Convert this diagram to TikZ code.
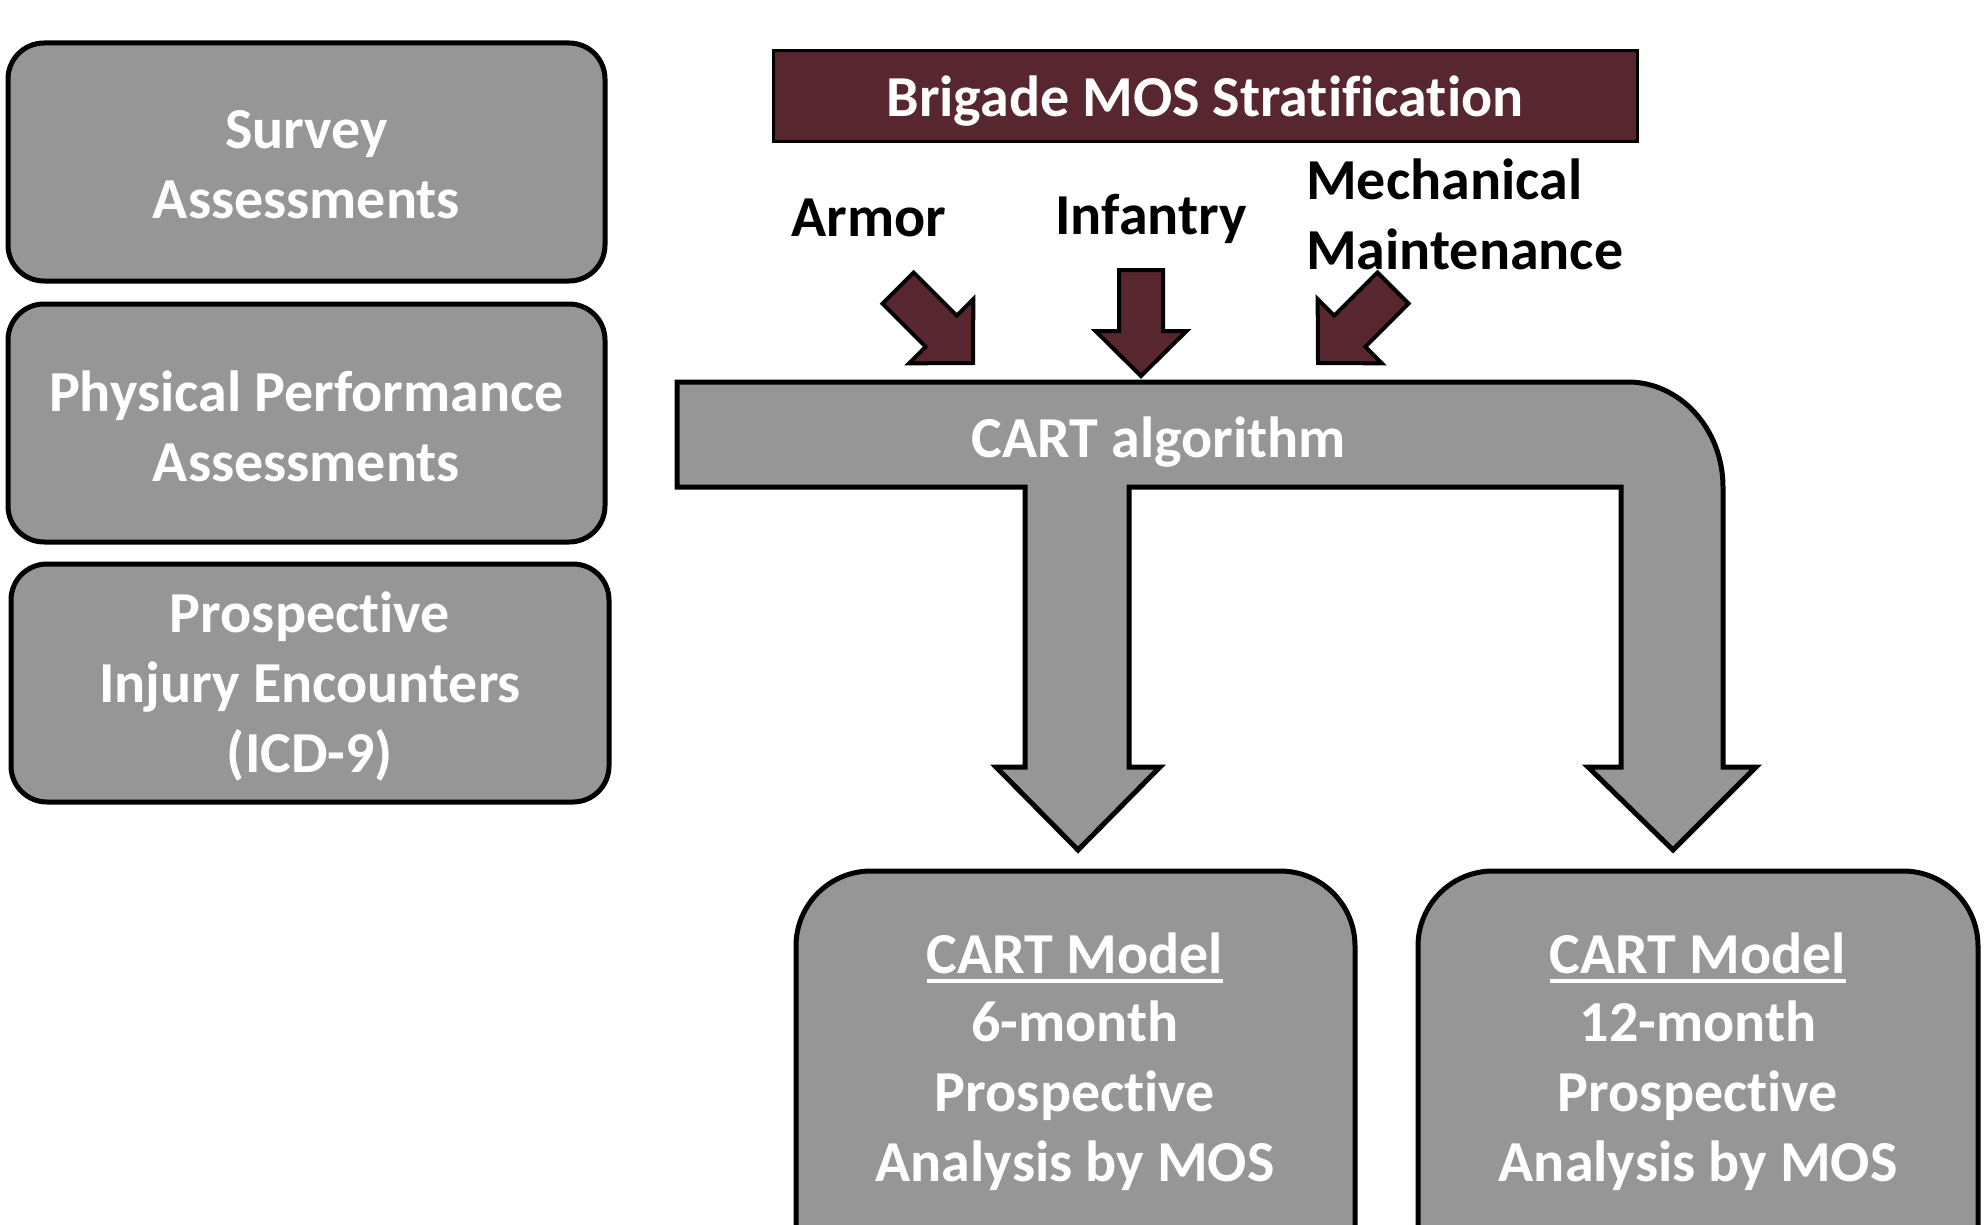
\documentclass[tikz,border=0pt]{standalone}
\usepackage{fontspec}
\setmainfont{Carlito}[Ligatures=NoCommon]
\definecolor{boxgray}{RGB}{150,150,150}
\definecolor{mosred}{RGB}{88,38,46}
\newcommand\nolig{\kern0pt }
\newcommand\mosarrow[3]{\draw[marr, shift={(#1,#2)}, rotate=#3] (-22,-106) -- (22,-106) -- (22,-45) -- (45.5,-45) -- (0,0) -- (-45.5,-45) -- (-22,-45) -- cycle;}
\begin{document}
\begin{tikzpicture}[x=1pt,y=-1pt,
  txt/.style={font=\bfseries\fontsize{58}{70}\selectfont, align=center, inner sep=0pt},
  wtxt/.style={txt, text=white},
  gbox/.style={draw=black, line width=5pt, fill=boxgray, rounded corners=36pt, inner sep=0pt},
  bbox/.style={draw=black, line width=5pt, fill=boxgray, rounded corners=75pt, inner sep=0pt},
  marr/.style={draw=black, line width=4pt, fill=mosred, line join=miter},
  cartshape/.style={draw=black, line width=5pt, fill=boxgray, line join=miter}]
\useasboundingbox (0,0) rectangle (1984,1225);
\clip (0,0) rectangle (1984,1225);

% left boxes
\node[gbox, minimum width=597pt, minimum height=238pt] (b1) at (306.5,162) {};
\node[wtxt] (t1) at (306.5,165) {Survey\\Assessments};
\node[gbox, minimum width=597pt, minimum height=238pt] (b2) at (306.5,423) {};
\node[wtxt] (t2) at (306.5,426) {Physical Performance\\Assessments};
\node[gbox, minimum width=598pt, minimum height=238pt] (b3) at (310,683) {};
\node[wtxt] (t3) at (310,687) {Prospect\nolig ive\\Injury Encounters\\(ICD-9)};

% brigade header
\node[draw=black, line width=3pt, fill=mosred, minimum width=864pt, minimum height=91pt, inner sep=0pt] (hdr) at (1205,96.5) {};
\node[wtxt] (hdrt) at (1205,101) {Brigade MOS Strat\nolig if\nolig icat\nolig ion};

% MOS labels
\node[txt] (armor) at (869,218) {Armor};
\node[txt] (inf) at (1151,219) {Infantry};
\node[txt, align=left, anchor=west] (mech) at (1306,214) {Mechanical\\Maintenance};

% MOS arrows
\mosarrow{973}{363}{45}
\mosarrow{1141}{376}{0}
\mosarrow{1318}{363}{-45}

% CART algorithm shape
\draw[cartshape] (677,382) -- (1628,382) .. controls (1680,382) and (1723,429) .. (1723,487)
  -- (1723,767) -- (1756,767) -- (1673,850) -- (1588,767) -- (1621,767) -- (1621,487)
  -- (1129,487) -- (1129,767) -- (1160,767) -- (1078,850) -- (996,767) -- (1025,767)
  -- (1025,487) -- (677,487) -- cycle;
\node[wtxt] (cart) at (1159,442) {CART algorithm};

% bottom boxes
\node[bbox, minimum width=559pt, minimum height=430pt] (m6) at (1075.5,1086) {};
\node[wtxt] (m6h) at (1075,953) {CART Model};
\draw[white, line width=4pt] ([yshift=-8pt]m6h.base west) -- ([yshift=-8pt]m6h.base east);
\node[wtxt] (m6b) at (1075,1096) {6-month\\Prospect\nolig ive\\Analysis by MOS};

\node[bbox, minimum width=560pt, minimum height=430pt] (m12) at (1698,1086) {};
\node[wtxt] (m12h) at (1698,953) {CART Model};
\draw[white, line width=4pt] ([yshift=-8pt]m12h.base west) -- ([yshift=-8pt]m12h.base east);
\node[wtxt] (m12b) at (1698,1096) {12-month\\Prospect\nolig ive\\Analysis by MOS};
\end{tikzpicture}
\end{document}
